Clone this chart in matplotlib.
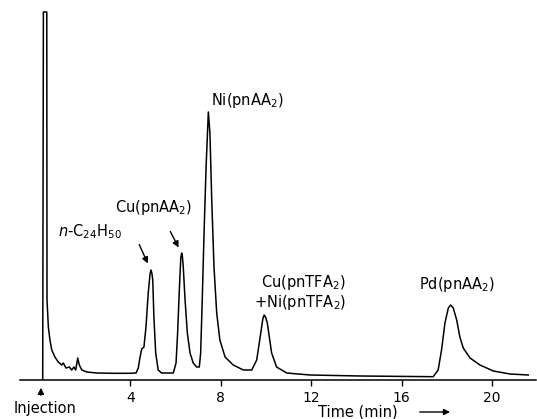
import matplotlib.pyplot as plt

# tracado digitalizado do cromatograma (tempo em min, sinal em unidades arbitrarias)
tempo = [0.12, 0.15, 0.30, 0.31, 0.37, 0.44, 0.52, 0.66, 0.81, 0.96, 1.03, 1.15, 1.30,
         1.40, 1.50, 1.58, 1.67, 1.74, 1.85, 2.07, 2.51, 3.24, 3.98, 4.25, 4.35,
         4.42, 4.50, 4.60, 4.69, 4.79, 4.87, 4.91, 4.95, 4.99, 5.04, 5.12, 5.23, 5.38, 5.90,
         6.02, 6.09, 6.16, 6.23, 6.27, 6.30, 6.34, 6.42, 6.52, 6.64, 6.78, 6.93, 7.05, 7.11,
         7.18, 7.26, 7.35, 7.45, 7.52, 7.60, 7.70, 7.82, 7.96, 8.19, 8.55, 9.00,
         9.37, 9.59, 9.77, 9.86, 9.92, 9.98, 10.06, 10.25, 10.47, 10.92, 11.95, 14.18, 17.40,
         17.62, 17.77, 17.92, 18.07, 18.17, 18.29, 18.44, 18.58, 18.73, 19.03,
         19.47, 20.06, 20.80, 21.61]
sinal = [0, 368, 368, 80, 53, 40, 30, 23, 18, 15, 17, 12, 13,
         10, 13, 10, 22, 15, 10, 8, 7, 6.7, 6.7, 7, 12,
         22, 31, 33, 53, 87, 106, 110, 107, 100, 63, 27, 10, 7, 7,
         17, 47, 87, 122, 127, 124, 113, 80, 47, 27, 17, 13, 13, 27,
         80, 147, 213, 268, 247, 180, 113, 67, 40, 23, 15, 10,
         10, 20, 47, 61, 65, 63, 57, 27, 13, 7, 5, 4, 3.3,
         10, 30, 57, 72, 75, 72, 60, 43, 32, 22,
         15, 9, 6, 5]

ticks = [4, 8, 12, 16, 20]

fig = plt.figure(figsize=(5.37, 4.19), dpi=100)
ax = fig.add_axes([20/537, 39/419, 516/537, 375/419])

ax.plot(tempo, sinal, color='black', lw=1.1)
ax.set_xlim(-0.885, 21.95)
ax.set_ylim(0, 375)

for s in ['left', 'right', 'top']:
    ax.spines[s].set_visible(False)
ax.spines['bottom'].set_linewidth(1.1)
ax.set_yticks([])
ax.set_xticks(ticks)
ax.tick_params(axis='x', direction='out', length=4, width=1, pad=4, labelsize=10)

fs = 10.5
ax.text(7.57, 280, 'Ni(pnAA$_2$)', fontsize=fs, ha='left', va='center')
ax.text(0.80, 148, '$n$-C$_{24}$H$_{50}$', fontsize=fs, ha='left', va='center')
ax.text(3.32, 173, 'Cu(pnAA$_2$)', fontsize=fs, ha='left', va='center')
ax.text(13.54, 98, 'Cu(pnTFA$_2$)', fontsize=fs, ha='right', va='center')
ax.text(13.54, 78, '+Ni(pnTFA$_2$)', fontsize=fs, ha='right', va='center')
ax.text(18.47, 95, 'Pd(pnAA$_2$)', fontsize=fs, ha='center', va='center')

seta = dict(arrowstyle='-|>', color='black', lw=1, mutation_scale=9)
ax.annotate('', xy=(4.82, 114), xytext=(4.34, 138), arrowprops=seta)
ax.annotate('', xy=(6.19, 130), xytext=(5.71, 151), arrowprops=seta)

# injecao e eixo do tempo
ax.annotate('', xy=(0.04, -5), xytext=(0.04, -18), arrowprops=seta, annotation_clip=False)
ax.text(0.22, -28, 'Injection', fontsize=fs, ha='center', va='center', clip_on=False)
ax.text(12.3, -32, 'Time (min)', fontsize=fs, ha='left', va='center', clip_on=False)
ax.annotate('', xy=(18.27, -32), xytext=(16.68, -32), arrowprops=seta, annotation_clip=False)

plt.savefig('out.png', dpi=100)
